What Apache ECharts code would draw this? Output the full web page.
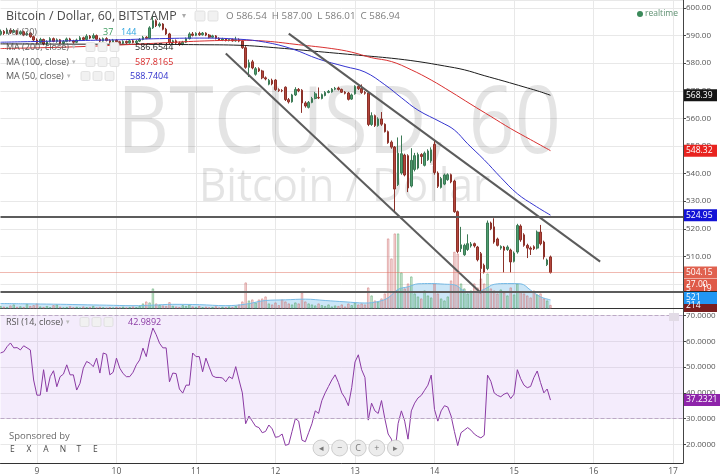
<!DOCTYPE html>
<html><head><meta charset="utf-8">
<script src="https://cdn.jsdelivr.net/npm/echarts@6/dist/echarts.min.js"></script>
<style>html,body{margin:0;padding:0;background:#fff}#c{width:720px;height:476px}</style>
</head><body><div id="c"></div>
<script>
// ---------- DATA ----------
const startDay = 8;          // first candle: day 8, 13:00 (hourly candles)
const firstHour = 13;
const slotCount = 207;       // hourly slots on the time axis (incl. empty future)
const dayLabels = ['9','10','11','12','13','14','15','16','17'];

// [open, close, low, high]
const ohlc = [
[590.5,591.5,590.0,592.2],[591.5,590.8,590.2,592.0],[590.8,592.0,590.5,592.8],[592.0,591.2,590.6,592.6],[591.2,591.8,590.9,592.4],
[591.8,590.6,590.2,592.1],[590.6,591.4,590.3,591.9],[591.4,590.2,589.8,591.8],[590.2,590.9,589.9,591.5],[590.9,589.6,589.2,591.2],
[589.6,588.4,587.9,590.0],[588.4,587.5,586.8,589.0],[587.5,588.6,587.2,589.2],[588.6,587.0,586.5,588.9],[587.0,587.8,586.4,588.3],
[587.8,588.9,587.5,589.4],[588.9,587.9,587.6,589.3],[587.9,588.5,587.4,589.0],[588.5,587.2,586.9,588.8],[587.2,587.9,586.9,588.4],
[587.9,588.8,587.6,589.3],[588.8,588.1,587.8,589.2],[588.1,587.6,587.1,588.5],[587.6,588.4,587.3,588.9],[588.4,589.2,588.1,589.8],
[589.2,588.6,588.3,589.6],[588.6,589.8,588.4,590.5],[589.8,589.1,588.7,590.2],[589.1,590.0,588.8,590.8],[590.0,588.7,588.4,590.4],
[588.7,588.0,587.6,589.2],[588.0,588.9,587.8,589.3],[588.9,588.2,587.9,589.4],[588.2,587.6,587.1,588.7],[587.6,588.3,587.3,588.8],
[588.3,587.8,587.4,588.7],[587.8,587.2,586.8,588.1],[587.2,587.9,586.9,588.3],[587.9,587.4,587.0,588.2],[587.4,588.1,587.1,588.5],
[588.1,587.5,587.2,588.6],[587.5,588.0,587.2,588.4],[588.0,588.6,587.7,589.1],[588.6,589.4,588.3,589.9],[589.4,589.0,588.7,589.8],
[589.0,592.8,588.8,593.4],[592.8,595.4,592.4,597.5],[595.4,593.6,593.1,595.9],[593.6,594.2,593.0,594.8],[594.2,592.3,591.9,594.5],
[592.3,590.6,590.2,592.8],[590.6,587.4,586.9,591.0],[587.4,588.1,586.8,588.5],[588.1,587.3,586.9,588.6],[587.3,586.8,586.3,587.9],
[586.8,587.6,586.5,588.1],[587.6,588.9,587.3,589.3],[588.9,590.6,588.6,591.2],[590.6,590.1,589.7,591.3],[590.1,590.8,589.8,591.2],
[590.8,590.3,589.9,591.4],[590.3,590.9,590.0,591.3],[590.9,590.2,589.8,591.2],[590.2,589.4,589.0,590.6],[589.4,589.9,589.1,590.3],
[589.9,589.0,588.6,590.2],[589.0,588.4,588.1,589.4],[588.4,588.8,588.0,589.2],[588.8,588.2,587.9,589.1],[588.2,588.6,587.9,588.9],
[588.6,588.1,587.8,588.9],[588.1,588.5,587.8,589.6],[588.5,588.0,587.6,589.0],[588.0,585.6,585.2,588.3],[585.6,578.5,578.0,586.2],
[578.5,580.2,575.0,581.3],[580.5,578.3,577.8,581.2],[576.0,578.0,575.5,578.6],[578.0,577.2,576.8,578.5],[577.2,574.7,574.2,577.6],
[574.7,574.3,573.8,575.2],[572.4,573.8,572.0,574.3],[573.8,572.5,572.0,574.4],[573.9,570.4,570.0,574.2],[570.4,570.1,569.6,570.9],
[570.1,570.0,569.5,570.6],[571.3,566.8,566.3,571.6],[566.8,566.0,565.4,567.4],[566.0,568.5,565.7,568.9],[568.5,570.5,568.1,571.3],
[570.5,570.0,569.5,571.0],[570.2,565.6,562.0,570.6],[565.6,564.5,563.9,566.2],[564.0,565.8,563.6,566.3],[565.8,567.2,565.5,567.8],
[567.2,568.9,566.9,569.6],[567.6,567.4,567.0,571.2],[567.2,568.6,566.9,569.0],[568.3,569.4,568.0,569.9],[569.4,569.8,569.1,570.3],
[569.6,570.6,569.3,571.0],[570.6,570.9,570.2,571.4],[571.0,570.5,570.1,571.5],[570.5,569.5,569.2,570.8],[569.5,569.1,568.7,569.9],
[569.2,566.9,566.5,569.6],[567.0,568.5,566.7,569.0],[568.9,571.6,568.6,572.0],[571.6,570.8,570.3,572.0],[570.8,569.4,568.9,572.3],
[569.4,569.1,568.6,569.9],[569.2,557.8,557.2,569.6],[557.8,561.0,557.3,562.2],[561.0,557.4,556.9,561.4],[557.4,559.8,557.0,560.4],
[559.8,557.9,557.3,562.3],[557.9,555.2,554.9,558.2],[555.2,551.2,550.8,555.6],[551.4,549.6,549.0,552.0],[549.6,534.4,525.7,550.0],
[536.0,547.4,535.5,553.1],[540.2,547.2,539.6,553.8],[546.7,539.5,539.0,547.2],[546.5,534.8,533.3,547.0],[535.5,544.8,535.0,549.2],
[541.5,546.5,540.8,547.5],[542.0,546.9,541.5,547.6],[546.9,546.2,543.5,547.4],[543.0,547.4,542.6,548.0],[545.0,548.2,544.6,548.8],
[544.6,548.6,543.9,549.5],[550.6,540.4,539.6,552.2],[540.2,535.4,534.8,540.8],[535.0,538.2,534.6,538.8],[536.2,539.5,535.8,540.0],
[537.8,539.6,537.4,540.1],[539.6,537.0,536.5,540.0],[537.3,526.2,525.8,537.8],[526.2,511.8,511.2,526.6],[512.8,514.2,511.6,520.7],
[510.6,514.0,510.2,514.6],[512.5,514.6,512.0,518.0],[513.8,514.5,513.2,515.2],[514.6,513.8,513.2,515.0],[513.4,508.8,508.2,513.8],
[511.0,505.6,496.9,511.6],[506.8,504.3,503.8,507.4],[505.6,522.1,505.0,523.0],[522.1,520.0,519.5,522.6],[520.7,515.2,514.6,523.8],
[516.3,514.0,513.6,516.8],[513.0,513.6,512.4,514.0],[513.4,512.2,504.2,513.8],[512.5,513.4,512.0,514.0],[512.3,508.0,504.2,512.8],
[508.2,511.2,507.8,511.8],[511.6,521.2,511.0,521.8],[521.0,516.0,515.3,521.6],[517.8,514.0,513.5,518.4],[514.0,513.0,509.4,514.6],
[513.0,512.6,510.5,513.6],[513.5,512.8,512.3,514.0],[513.0,518.8,512.5,519.4],[518.8,514.6,514.0,521.4],[515.2,509.8,508.9,515.7],
[507.0,508.7,506.5,509.2],[509.8,504.15,503.8,510.3]
];

const volume = [
150,110,90,180,240,100,130,90,280,150,
200,300,120,90,150,80,200,240,110,60,
90,130,70,100,60,120,80,90,150,60,
100,70,50,80,60,90,70,110,60,90,
120,80,150,300,420,360,1200,300,220,180,
150,380,160,120,90,200,150,240,120,100,
150,80,110,70,90,130,60,100,80,120,
90,150,240,420,1560,480,540,360,540,600,
720,300,240,360,200,540,420,300,240,360,
300,960,420,300,240,180,300,200,150,240,
120,180,150,240,120,300,200,360,240,300,
240,1260,780,480,420,600,900,4200,3000,4500,
4500,2160,1200,1500,1920,900,720,600,1080,780,
660,1500,900,600,480,720,1680,3400,3300,1500,
1200,900,1080,1500,1260,1800,1500,2100,1200,1080,
900,1140,960,780,1260,840,1500,1020,900,780,
660,1080,840,900,600,480,214
];

// [candle index, value]
const ma200 = [[0,587.0],[24,586.9],[48,586.8],[60,586.7],[72,586.5],[84,585.5],[96,584.2],[108,582.9],[118,581.8],[126,580.6],[134,579.0],[140,577.6],[146,575.5],[152,573.5],[158,571.4],[162,570.0],[166,568.39]];
const ma100 = [[0,585.3],[12,585.6],[24,586.0],[36,586.6],[48,587.3],[60,588.0],[72,588.3],[80,588.0],[90,586.7],[100,585.3],[106,584.0],[112,582.0],[118,580.6],[124,577.6],[130,573.9],[136,569.6],[142,565.1],[148,560.7],[154,556.3],[160,552.3],[166,548.32]];
const ma50 = [[0,587.6],[12,587.9],[24,588.2],[36,588.5],[48,588.9],[60,589.1],[72,588.7],[80,587.6],[88,585.2],[96,581.5],[104,578.8],[110,576.8],[116,572.2],[121,567.5],[126,563.0],[133,558.6],[137,555.8],[141,550.8],[146,545.0],[151,538.6],[156,532.7],[161,528.6],[166,524.95]];
const volMa = [[0,300],[8,280],[16,260],[24,230],[32,200],[40,170],[46,200],[52,250],[60,230],[68,170],[74,260],[80,480],[86,520],[92,560],[98,480],[104,400],[110,330],[114,420],[117,640],[120,1150],[123,1300],[126,1480],[130,1500],[134,1460],[137,1420],[140,1050],[143,960],[146,1150],[149,1450],[153,1500],[157,1480],[160,1100],[163,700],[166,521]];

const rsi = [
55.5,56,58,59.4,57.5,57.6,56.7,58.3,57.5,56.7,
45,39.1,39.1,49,40.4,46.3,48.6,42.4,46.3,47.3,
50.9,47,47,41.1,43.7,49.6,52.2,51.5,50.2,53.5,
47.7,55.5,55,47,48,53.5,49.6,47.5,46.3,46.3,
48,50.9,52.8,57.4,54.1,60.6,65.2,62.6,59.3,57.5,
57.5,44.3,47.7,47.5,41.5,39.9,43,43,55.5,54.1,
54.1,48.2,53.5,50,46.6,46,46,45.8,44.3,46.3,
45.5,50.2,45,40,28,31,29,27,26.5,24.5,25,
27.5,26,22.7,23,24,19.6,20,25,30,29,
21.6,21,24.5,28,33,32,37,40,42.5,45,
47,44,40,38,35,42,52,54.8,49,46,
29.4,36,33,32,37,30,24,22,15.7,28,
33,29,22,33,36,38,39,41,43,46.9,
33.5,29,33,35,34.5,31,25,19.5,24.5,25.5,
26.5,25.5,24,23.1,22.5,23.5,46.9,44.5,40,39,
38.5,39.5,40,37.8,39.5,49,45.5,43,42,42.5,
46,48.5,44,40,41.5,37.2
];

// drawn lines (candle index, price)
const trendLower = [[68,583.5],[145,496.7]];
const trendUpper = [[87,590.7],[181,508.1]];
const hLevels = [524.3, 497.1];
const lastClose = 504.15;
const rsiLevels = [30, 70];

// ---------- CHART ----------
const FONT = "'Open Sans', sans-serif";
const cats = [];
for (let k = 0; k < slotCount; k++) {
  const h = firstHour + k;
  cats.push((startDay + Math.floor(h / 24)) + '/' + String(h % 24).padStart(2, '0'));
}
const isDayStart = (idx, v) => v.endsWith('/00') && dayLabels.includes(v.split('/')[0]);

const volUp = {color:'rgba(140,205,150,0.28)', borderColor:'rgba(80,160,100,0.65)', borderWidth:0.8};
const volDown = {color:'rgba(235,160,160,0.28)', borderColor:'rgba(205,110,110,0.65)', borderWidth:0.8};
const volData = volume.map((v, i) => ({value: v, itemStyle: ohlc[i][1] >= ohlc[i][0] ? volUp : volDown}));

const chart = echarts.init(document.getElementById('c'));
const gL = 0.5, gR = 37;
const gridLine = {color:'#e8e8e8', width:1};
chart.setOption({
  animation: false,
  backgroundColor: '#fff',
  grid: [
    {left:gL, right:gR, top:0, height:308.5},
    {left:gL, right:gR, top:228.5, height:80},
    {left:gL, right:gR, top:308.5, height:154.5}
  ],
  xAxis: [
    {type:'category', gridIndex:0, data:cats, boundaryGap:false,
     axisLine:{show:true, lineStyle:{color:'#333'}}, axisTick:{show:false}, axisLabel:{show:false},
     splitLine:{show:true, interval:isDayStart, lineStyle:gridLine}},
    {type:'category', gridIndex:1, data:cats, boundaryGap:false, show:false},
    {type:'category', gridIndex:2, data:cats, boundaryGap:false,
     axisLine:{show:true, lineStyle:{color:'#333'}}, axisTick:{show:false},
     axisLabel:{interval:isDayStart, formatter:v => v.split('/')[0], color:'#555', fontSize:8.5, fontFamily:FONT, margin:4},
     splitLine:{show:true, interval:isDayStart, lineStyle:gridLine}}
  ],
  yAxis: [
    {type:'value', gridIndex:0, position:'right', min:491.12, max:602.9, splitNumber:11,
     axisLine:{show:true, lineStyle:{color:'#444'}}, axisTick:{show:true, length:3, lineStyle:{color:'#444'}},
     axisLabel:{formatter:v => v.toFixed(2), color:'#555', fontSize:8, fontFamily:FONT, margin:3, showMinLabel:false, showMaxLabel:false},
     splitLine:{lineStyle:gridLine}},
    {type:'value', gridIndex:1, min:0, max:4800, show:false, splitLine:{show:false}},
    {type:'value', gridIndex:2, position:'right', min:12.73, max:72.8, splitNumber:6,
     axisLine:{show:true, lineStyle:{color:'#444'}}, axisTick:{show:true, length:3, lineStyle:{color:'#444'}},
     axisLabel:{formatter:v => v.toFixed(4), color:'#555', fontSize:8, fontFamily:FONT, margin:3, showMinLabel:false, showMaxLabel:false},
     splitLine:{lineStyle:gridLine}}
  ],
  series: [
    {type:'bar', xAxisIndex:1, yAxisIndex:1, data:volData, barWidth:'70%', z:1},
    {type:'line', xAxisIndex:1, yAxisIndex:1, data:volMa, showSymbol:false, smooth:0.4,
     lineStyle:{color:'#78bbe6', width:1}, areaStyle:{color:'rgba(120,190,235,0.55)'}, z:1},
    {type:'candlestick', xAxisIndex:0, yAxisIndex:0, data:ohlc, barWidth:'62%',
     itemStyle:{color:'#4e9c6e', color0:'#b4463c', borderColor:'#3b7a55', borderColor0:'#8c3129', borderWidth:1},
     markLine:{silent:true, symbol:['none','none'], label:{show:false},
       lineStyle:{color:'#5c5c5c', width:2, type:'solid'},
       data:[
         [{coord:trendLower[0]},{coord:trendLower[1]}],
         [{coord:trendUpper[0]},{coord:trendUpper[1]}],
         {yAxis:hLevels[0]}, {yAxis:hLevels[1]},
         {yAxis:lastClose, lineStyle:{type:'dotted', color:'#e07262', width:1}}
       ]}, z:3},
    {type:'line', xAxisIndex:0, yAxisIndex:0, data:ma200, showSymbol:false, smooth:0.4, lineStyle:{color:'#1c1c1c', width:1}, z:4},
    {type:'line', xAxisIndex:0, yAxisIndex:0, data:ma100, showSymbol:false, smooth:0.4, lineStyle:{color:'#d93030', width:1}, z:4},
    {type:'line', xAxisIndex:0, yAxisIndex:0, data:ma50, showSymbol:false, smooth:0.4, lineStyle:{color:'#3535d0', width:1}, z:4},
    {type:'line', xAxisIndex:2, yAxisIndex:2, data:rsi, showSymbol:false, lineStyle:{color:'#8a3aa3', width:1}, z:4,
     markArea:{silent:true, itemStyle:{color:'rgba(200,160,240,0.2)'}, data:[[{yAxis:rsiLevels[0]},{yAxis:rsiLevels[1]}]]},
     markLine:{silent:true, symbol:['none','none'], label:{show:false}, lineStyle:{color:'#bca9c6', type:'dashed', width:1},
       data:[{yAxis:rsiLevels[0]},{yAxis:rsiLevels[1]}]}}
  ]
});

// ---------- TEXT OVERLAYS ----------
function txt(x, y, text, fill, size, extra) {
  return Object.assign({type:'text', x:x, y:y, silent:true, z:50,
    style:{text:text, fill:fill, fontSize:size, fontFamily:FONT, verticalAlign:'middle', align:'left'}}, extra || {});
}
function box(x, y, w, h) {
  return {type:'rect', silent:true, z:50, shape:{x:x, y:y, width:w, height:h, r:1.5}, style:{fill:'#f1f1f1', stroke:'#dcdcdc', lineWidth:0.8}};
}
function tag(y, text, bg, w) {
  return [{type:'rect', silent:true, z:60, shape:{x:684, y:y-6, width:w || 33, height:12}, style:{fill:bg}},
          txt(686, y, text, '#fff', 8.5, {z:61})];
}
const py = v => chart.convertToPixel({yAxisIndex:0}, v);
const ry = v => chart.convertToPixel({yAxisIndex:2}, v);

const g = [];
// watermark
g.push({type:'text', x:117, y:126, z:0, silent:true, scaleX:0.86,
  style:{text:'BTCUSD, 60', fill:'rgba(0,0,0,0.105)', fontSize:94, fontFamily:FONT, verticalAlign:'middle'}});
g.push({type:'text', x:199, y:188, z:0, silent:true, scaleX:0.92,
  style:{text:'Bitcoin / Dollar', fill:'rgba(0,0,0,0.105)', fontSize:46, fontFamily:FONT, verticalAlign:'middle'}});
// header
g.push(txt(6, 16, 'Bitcoin / Dollar, 60, BITSTAMP', '#4a4a4a', 12.4));
g.push(txt(182, 16, '▾', '#aaa', 8));
g.push(box(195, 11, 10, 10), box(208, 11, 10, 10));
g.push(txt(226, 16, 'O 586.54  H 587.00  L 586.01  C 586.94', '#7d7d7d', 9.8));
g.push({type:'circle', silent:true, z:50, shape:{cx:640, cy:14, r:3}, style:{fill:'#3b8a5a'}});
g.push(txt(645, 14, 'realtime', '#5d8f70', 8.5));
// legend rows
g.push(txt(6, 32, 'Vol (20)', '#666', 9), txt(103, 32, '37', '#3a9a5c', 9), txt(121, 32, '144', '#2ea5e0', 9));
g.push(txt(6, 47, 'MA (200, close)', '#555', 9), txt(135, 47, '586.6544', '#222', 9));
g.push(txt(6, 62, 'MA (100, close)', '#555', 9), txt(135, 62, '587.8165', '#d92b2b', 9));
g.push(txt(6, 76, 'MA (50, close)', '#555', 9), txt(130, 76, '588.7404', '#3333cc', 9));
[[47,86],[62,86],[76,81]].forEach(([y, x]) => {
  g.push(txt(x - 14, y, '▾', '#bbb', 7));
  g.push(box(x, y - 4.5, 9, 9), box(x + 12, y - 4.5, 9, 9), box(x + 24, y - 4.5, 9, 9));
});
// RSI legend
g.push(txt(6, 322, 'RSI (14, close)', '#555', 9), txt(66, 322, '▾', '#bbb', 7));
g.push(box(80, 317.5, 9, 9), box(92, 317.5, 9, 9), box(104, 317.5, 9, 9));
g.push(txt(128, 322, '42.9892', '#8a3aa3', 9));
g.push({type:'rect', silent:true, z:50, shape:{x:669, y:313, width:10, height:8}, style:{fill:'#e2dbe6'}});
// sponsor
g.push(txt(9, 436, 'Sponsored by', '#6a6a6a', 9.5));
'EXANTE'.split('').forEach((ch, k) => g.push(txt(10 + k * 16.6, 450, ch, '#4a4a4a', 8.5)));
// navigation buttons
['◂','−','C','+','▸'].forEach((ch, k) => {
  const cx = 321 + k * 18.6;
  g.push({type:'circle', silent:true, z:50, shape:{cx:cx, cy:448, r:8}, style:{fill:'#ececec', stroke:'#c4c4c4', lineWidth:0.8}});
  g.push(txt(cx, 448, ch, '#777', 9, {style:{text:ch, fill:'#777', fontSize:9, fontFamily:FONT, align:'center', verticalAlign:'middle'}}));
});
// price scale tags
g.push(...tag(py(ma200[ma200.length - 1][1]), '568.39', '#141414'));
g.push(...tag(py(ma100[ma100.length - 1][1]), '548.32', '#e8231f'));
g.push(...tag(py(ma50[ma50.length - 1][1]), '524.95', '#1212d6'));
g.push(...tag(289, '5     19', '#2b2b2b'));
g.push(...tag(285, '27.00', '#df5a48'));
g.push(...tag(py(lastClose), '504.15', '#e0614f'));
g.push(...tag(306, '214', '#7b1f1f'));
g.push(...tag(298, '521', '#2196f3'));
g.push(...tag(ry(rsi[rsi.length - 1]), '37.2321', '#8e24aa', 36));

chart.setOption({graphic: g});
</script>
</body></html>
